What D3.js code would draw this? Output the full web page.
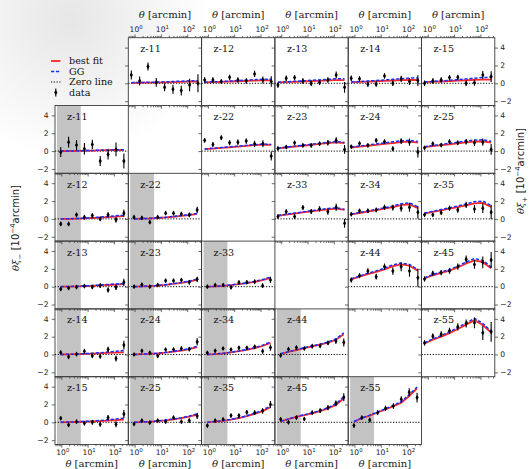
<!DOCTYPE html>
<html>
<head>
<meta charset="utf-8">
<script src="https://cdn.jsdelivr.net/npm/d3@7"></script>
<style>
  body { margin: 0; background: #fff; }
  svg { display: block; }
</style>
</head>
<body>
<svg id="chart" width="530" height="469"></svg>
<script>
// ---- data -------------------------------------------------------------
// tomographic bin pairs (i <= j)
const pairs = ["11","12","13","14","15","22","23","24","25","33","34","35","44","45","55"];

// angular bin centres [arcmin]
const thetaPlus  = [0.75, 1.55, 3.22, 6.67, 13.8, 28.7, 59.4, 123, 256];
const thetaMinus = [0.95, 1.89, 3.78, 7.55, 15.1, 30.1, 60.0, 120, 239];

// scales removed from the xi_- fit [arcmin]
const cutRange = [0.68, 5.5];

const yTickValues = [-2, 0, 2, 4];
const xMajorTicks = [1, 10, 100];
const xTickExponents = ["0", "1", "2"];

// theta * xi_+  [1e-4 arcmin], one row per pair
const xipData = [
  [0.93, 0.26, 1.87, 0.10, -0.45, -0.67, -0.82, -0.20, 0.00],
  [0.37, 0.37, 0.20, 0.67, 0.37, 0.26, 1.05, 0.37, 0.20],
  [-0.20, 0.56, 0.64, 0.26, 0.00, 0.10, 0.37, 0.93, -0.45],
  [0.56, 0.50, -0.10, -0.10, 0.82, 0.00, 0.50, 0.20, 0.30],
  [0.00, 0.26, 0.37, 0.64, 0.67, 0.00, 0.07, 0.93, 0.75],
  [1.20, 0.75, 1.50, 0.93, 1.00, 1.12, 0.82, 0.82, -0.56],
  [0.30, 0.45, 0.93, 0.64, 0.64, 0.82, 0.93, 1.20, 0.19],
  [0.49, 0.86, 0.64, 1.20, 1.05, 0.26, 1.12, 1.00, -0.11],
  [0.37, 0.82, 0.67, 1.05, 0.93, 1.05, 0.93, 1.00, 0.19],
  [0.26, 0.82, 0.26, 1.27, 0.82, 1.12, 0.82, 1.30, -0.49],
  [0.52, 0.90, 0.90, 1.00, 1.30, 1.27, 1.20, 1.30, 0.75],
  [0.45, 0.45, 0.70, 1.20, 1.00, 1.57, 1.12, 1.20, 0.75],
  [0.75, 1.23, 1.76, 1.12, 2.24, 1.76, 2.24, 1.76, 1.00],
  [0.86, 1.50, 1.57, 1.76, 2.24, 3.07, 2.50, 2.73, 3.00],
  [1.30, 2.05, 2.28, 2.65, 3.10, 3.48, 3.55, 2.43, 2.54]
];
const xipErr = [
  [0.50, 0.50, 0.45, 0.50, 0.45, 0.50, 0.55, 0.70, 1.00],
  [0.30, 0.30, 0.25, 0.30, 0.30, 0.30, 0.35, 0.40, 0.60],
  [0.30, 0.30, 0.30, 0.30, 0.30, 0.30, 0.30, 0.40, 0.60],
  [0.30, 0.30, 0.30, 0.30, 0.30, 0.30, 0.35, 0.40, 0.60],
  [0.30, 0.30, 0.30, 0.30, 0.30, 0.30, 0.35, 0.45, 0.60],
  [0.25, 0.25, 0.25, 0.28, 0.30, 0.30, 0.35, 0.40, 0.50],
  [0.20, 0.20, 0.22, 0.22, 0.25, 0.25, 0.30, 0.35, 0.50],
  [0.20, 0.22, 0.22, 0.25, 0.25, 0.28, 0.32, 0.40, 0.60],
  [0.20, 0.22, 0.22, 0.25, 0.25, 0.30, 0.35, 0.40, 0.60],
  [0.22, 0.22, 0.25, 0.25, 0.28, 0.30, 0.35, 0.40, 0.50],
  [0.22, 0.22, 0.25, 0.25, 0.28, 0.32, 0.40, 0.50, 0.70],
  [0.22, 0.22, 0.25, 0.28, 0.30, 0.35, 0.45, 0.55, 0.80],
  [0.28, 0.28, 0.30, 0.32, 0.35, 0.42, 0.50, 0.65, 1.00],
  [0.28, 0.28, 0.30, 0.32, 0.35, 0.42, 0.50, 0.65, 0.90],
  [0.30, 0.30, 0.32, 0.35, 0.40, 0.45, 0.60, 0.80, 1.10]
];
const xipBest = [
  [0.05, 0.06, 0.07, 0.08, 0.10, 0.12, 0.15, 0.18, 0.20],
  [0.10, 0.13, 0.16, 0.20, 0.23, 0.27, 0.30, 0.33, 0.33],
  [0.10, 0.13, 0.16, 0.20, 0.24, 0.28, 0.32, 0.35, 0.35],
  [0.12, 0.15, 0.19, 0.23, 0.27, 0.31, 0.35, 0.38, 0.37],
  [0.12, 0.16, 0.20, 0.24, 0.29, 0.34, 0.38, 0.42, 0.40],
  [0.22, 0.28, 0.35, 0.42, 0.50, 0.58, 0.66, 0.72, 0.70],
  [0.30, 0.40, 0.50, 0.60, 0.70, 0.80, 0.90, 0.98, 0.90],
  [0.40, 0.50, 0.60, 0.70, 0.80, 0.90, 1.00, 1.05, 0.95],
  [0.45, 0.55, 0.66, 0.76, 0.87, 0.97, 1.06, 1.10, 0.95],
  [0.35, 0.48, 0.60, 0.72, 0.84, 0.96, 1.07, 1.15, 1.00],
  [0.50, 0.66, 0.82, 0.98, 1.14, 1.32, 1.55, 1.62, 1.20],
  [0.60, 0.78, 0.96, 1.14, 1.32, 1.52, 1.75, 1.80, 1.35],
  [0.82, 1.12, 1.40, 1.65, 1.95, 2.30, 2.50, 2.35, 1.80],
  [0.93, 1.28, 1.55, 1.80, 2.15, 2.60, 2.95, 2.75, 2.05],
  [1.23, 1.65, 2.00, 2.40, 2.85, 3.35, 3.85, 3.30, 2.45]
];
const xipGG = [
  [0.07, 0.09, 0.11, 0.13, 0.16, 0.20, 0.24, 0.28, 0.30],
  [0.12, 0.16, 0.20, 0.25, 0.30, 0.35, 0.40, 0.44, 0.45],
  [0.12, 0.17, 0.22, 0.27, 0.33, 0.38, 0.44, 0.50, 0.50],
  [0.14, 0.19, 0.25, 0.31, 0.37, 0.44, 0.51, 0.58, 0.60],
  [0.15, 0.21, 0.27, 0.34, 0.41, 0.49, 0.57, 0.65, 0.67],
  [0.24, 0.31, 0.39, 0.47, 0.56, 0.64, 0.72, 0.78, 0.75],
  [0.33, 0.44, 0.55, 0.66, 0.77, 0.88, 0.98, 1.06, 0.97],
  [0.45, 0.56, 0.68, 0.80, 0.92, 1.04, 1.15, 1.20, 1.07],
  [0.50, 0.62, 0.74, 0.87, 1.00, 1.12, 1.23, 1.27, 1.10],
  [0.38, 0.52, 0.65, 0.78, 0.91, 1.04, 1.16, 1.24, 1.08],
  [0.54, 0.71, 0.88, 1.06, 1.24, 1.44, 1.70, 1.80, 1.35],
  [0.65, 0.85, 1.05, 1.25, 1.45, 1.68, 1.93, 2.00, 1.50],
  [0.88, 1.20, 1.50, 1.77, 2.08, 2.45, 2.65, 2.50, 1.90],
  [1.00, 1.36, 1.65, 1.92, 2.30, 2.78, 3.15, 2.95, 2.20],
  [1.30, 1.75, 2.12, 2.55, 3.02, 3.55, 4.05, 3.50, 2.60]
];

// theta * xi_-  [1e-4 arcmin], one row per pair
const ximData = [
  [-0.11, 1.00, 0.67, 0.26, 0.75, -1.12, -0.37, 0.19, -1.12],
  [-0.56, -0.56, 0.45, 0.19, 0.37, 0.00, 0.45, -0.11, 0.64],
  [-0.26, -0.15, -0.04, 0.07, -0.04, 0.11, -0.37, -0.07, 0.49],
  [0.22, -0.26, 0.04, 0.37, -0.15, -0.19, 0.56, -0.45, 1.05],
  [0.45, -0.30, 0.07, -0.11, 0.00, -0.22, 0.52, -0.22, 0.93],
  [0.19, 0.11, -0.37, 0.19, 0.64, 0.64, 0.56, 0.45, 1.00],
  [0.00, 0.22, 0.00, 0.19, 0.67, 0.67, 0.75, 0.49, 0.82],
  [0.00, 0.41, 0.19, -0.15, 0.56, 0.56, 0.67, 0.60, 1.42],
  [-0.19, 0.19, -0.04, 0.19, 0.07, 0.52, 0.07, 0.19, 0.71],
  [0.00, 0.19, 0.19, -0.07, 0.49, 0.49, 0.56, 0.11, 0.75],
  [0.19, 0.41, 0.67, 0.56, 0.75, 0.75, 0.86, 0.37, 0.78],
  [-0.37, 0.19, 0.34, 0.75, 0.75, 1.12, 1.08, 1.27, 2.00],
  [-0.11, 0.60, 0.78, 0.67, 0.93, 0.97, 1.30, 1.50, 1.35],
  [0.34, 0.00, 0.52, 0.37, 1.08, 1.30, 1.64, 2.13, 2.80],
  [-0.37, 0.52, 0.26, 1.08, 1.57, 1.83, 2.58, 3.36, 2.77]
];
const ximErr = [
  [0.56, 0.60, 0.56, 0.65, 0.52, 0.56, 0.56, 0.78, 0.84],
  [0.25, 0.25, 0.25, 0.25, 0.25, 0.25, 0.28, 0.30, 0.40],
  [0.22, 0.22, 0.22, 0.22, 0.22, 0.25, 0.28, 0.30, 0.40],
  [0.22, 0.22, 0.22, 0.25, 0.25, 0.28, 0.30, 0.35, 0.50],
  [0.22, 0.22, 0.22, 0.25, 0.25, 0.28, 0.30, 0.35, 0.45],
  [0.18, 0.18, 0.20, 0.20, 0.20, 0.22, 0.22, 0.25, 0.35],
  [0.15, 0.15, 0.15, 0.18, 0.18, 0.20, 0.20, 0.25, 0.30],
  [0.15, 0.15, 0.15, 0.18, 0.18, 0.20, 0.22, 0.25, 0.40],
  [0.15, 0.15, 0.15, 0.18, 0.18, 0.20, 0.22, 0.25, 0.35],
  [0.15, 0.15, 0.15, 0.18, 0.18, 0.20, 0.22, 0.25, 0.35],
  [0.15, 0.15, 0.18, 0.18, 0.20, 0.20, 0.22, 0.28, 0.35],
  [0.18, 0.18, 0.18, 0.20, 0.20, 0.22, 0.25, 0.30, 0.40],
  [0.18, 0.18, 0.20, 0.20, 0.22, 0.22, 0.25, 0.30, 0.45],
  [0.20, 0.20, 0.20, 0.22, 0.22, 0.25, 0.28, 0.32, 0.45],
  [0.22, 0.22, 0.25, 0.25, 0.28, 0.30, 0.35, 0.45, 0.55]
];
const ximBest = [
  [0.00, 0.01, 0.02, 0.04, 0.06, 0.08, 0.10, 0.12, 0.12],
  [0.00, 0.01, 0.03, 0.06, 0.10, 0.15, 0.20, 0.26, 0.30],
  [0.00, 0.01, 0.03, 0.06, 0.10, 0.14, 0.19, 0.24, 0.30],
  [0.00, 0.01, 0.03, 0.06, 0.09, 0.13, 0.17, 0.21, 0.25],
  [0.00, 0.01, 0.03, 0.06, 0.10, 0.14, 0.19, 0.25, 0.30],
  [0.00, 0.02, 0.05, 0.10, 0.16, 0.24, 0.33, 0.43, 0.55],
  [0.00, 0.03, 0.07, 0.13, 0.21, 0.31, 0.43, 0.58, 0.78],
  [0.00, 0.03, 0.07, 0.13, 0.21, 0.31, 0.43, 0.60, 0.82],
  [0.00, 0.03, 0.07, 0.13, 0.22, 0.33, 0.46, 0.63, 0.85],
  [0.00, 0.04, 0.10, 0.18, 0.28, 0.40, 0.55, 0.74, 1.00],
  [0.00, 0.05, 0.13, 0.24, 0.37, 0.52, 0.71, 0.95, 1.30],
  [0.00, 0.07, 0.17, 0.31, 0.48, 0.68, 0.93, 1.25, 1.70],
  [0.08, 0.28, 0.50, 0.72, 0.92, 1.10, 1.32, 1.65, 2.28],
  [0.10, 0.35, 0.60, 0.80, 1.00, 1.25, 1.55, 1.95, 2.70],
  [0.07, 0.45, 0.75, 1.10, 1.45, 1.80, 2.20, 2.95, 3.80]
];
const ximGG = [
  [0.00, 0.01, 0.03, 0.05, 0.07, 0.10, 0.12, 0.14, 0.15],
  [0.00, 0.02, 0.04, 0.08, 0.13, 0.20, 0.27, 0.35, 0.42],
  [0.00, 0.02, 0.05, 0.09, 0.14, 0.19, 0.25, 0.31, 0.36],
  [0.00, 0.02, 0.05, 0.09, 0.14, 0.20, 0.27, 0.35, 0.45],
  [0.00, 0.02, 0.05, 0.10, 0.15, 0.21, 0.28, 0.36, 0.45],
  [0.00, 0.02, 0.06, 0.11, 0.18, 0.27, 0.37, 0.48, 0.60],
  [0.00, 0.03, 0.08, 0.14, 0.23, 0.34, 0.47, 0.63, 0.85],
  [0.00, 0.03, 0.08, 0.15, 0.24, 0.35, 0.48, 0.66, 0.92],
  [0.00, 0.03, 0.08, 0.15, 0.25, 0.37, 0.51, 0.70, 0.95],
  [0.00, 0.04, 0.11, 0.20, 0.31, 0.44, 0.60, 0.80, 1.07],
  [0.00, 0.06, 0.14, 0.26, 0.40, 0.57, 0.77, 1.03, 1.40],
  [0.00, 0.08, 0.19, 0.34, 0.52, 0.74, 1.01, 1.35, 1.82],
  [0.09, 0.30, 0.53, 0.76, 0.97, 1.16, 1.39, 1.75, 2.42],
  [0.11, 0.37, 0.63, 0.85, 1.06, 1.32, 1.64, 2.06, 2.85],
  [0.08, 0.48, 0.80, 1.16, 1.52, 1.90, 2.32, 3.10, 3.95]
];

// ---- layout -----------------------------------------------------------
const W = 530, H = 469;
const gridLeft = 55, gridTop = 37.7, cellW = 73.3, cellH = 67.8;
const serif = "'DejaVu Serif', serif";
const sans = "'DejaVu Sans', sans-serif";
const ink = "#222";

const x = d3.scaleLog().domain([0.575, 352]).range([0, cellW]);
const y = d3.scaleLinear().domain([-2.49, 5.11]).range([cellH, 0]);

const minorTicks = [];
[0.1, 1, 10, 100].forEach(dec => {
  for (let m = 2; m < 10; m++) {
    const v = dec * m;
    if (v >= 0.575 && v <= 352) minorTicks.push(v);
  }
});

const svg = d3.select("#chart");
const defs = svg.append("defs");

// faint haze in the upper-left corner of the canvas
const haze = defs.append("radialGradient").attr("id", "haze")
  .attr("gradientUnits", "userSpaceOnUse").attr("cx", 70).attr("cy", 20).attr("r", 140);
haze.append("stop").attr("offset", 0).attr("stop-color", "#e6e6e6");
haze.append("stop").attr("offset", 1).attr("stop-color", "#ffffff");
svg.append("rect").attr("width", W).attr("height", H).attr("fill", "url(#haze)");

defs.append("clipPath").attr("id", "cell")
  .append("rect").attr("width", cellW).attr("height", cellH);

// build the panel list: xi_+ in the upper triangle, xi_- in the lower one
const panels = [];
pairs.forEach((p, k) => {
  const i = +p[0], j = +p[1];
  panels.push({ kind: "+", label: "z-" + p, row: i - 1, col: j, theta: thetaPlus,
    data: xipData[k], err: xipErr[k], best: xipBest[k], gg: xipGG[k] });
  panels.push({ kind: "-", label: "z-" + p, row: j, col: i - 1, theta: thetaMinus,
    data: ximData[k], err: ximErr[k], best: ximBest[k], gg: ximGG[k] });
});

const bgLayer = svg.append("g");
const plotLayer = svg.append("g");
const frameLayer = svg.append("g");

const pos = d => `translate(${gridLeft + d.col * cellW},${gridTop + d.row * cellH})`;

panels.forEach(d => {
  bgLayer.append("rect").attr("transform", pos(d))
    .attr("width", cellW).attr("height", cellH).attr("fill", "#fff");
});

const line = d3.line().x(p => x(p[0])).y(p => y(p[1]));

panels.forEach(d => {
  const g = plotLayer.append("g").attr("transform", pos(d));
  const c = g.append("g").attr("clip-path", "url(#cell)");

  if (d.kind === "-") {
    c.append("rect")
      .attr("x", x(cutRange[0])).attr("width", x(cutRange[1]) - x(cutRange[0]))
      .attr("y", 0).attr("height", cellH).attr("fill", "#c3c3c3");
  }

  // zero line
  c.append("line").attr("x1", 0).attr("x2", cellW)
    .attr("y1", y(0)).attr("y2", y(0))
    .attr("stroke", "#000").attr("stroke-width", 1).attr("stroke-dasharray", "1.2,1.6");

  // best fit and GG models
  c.append("path").datum(d.theta.map((t, k) => [t, d.best[k]])).attr("d", line)
    .attr("fill", "none").attr("stroke", "#ff2626").attr("stroke-width", 1.8);
  c.append("path").datum(d.theta.map((t, k) => [t, d.gg[k]])).attr("d", line)
    .attr("fill", "none").attr("stroke", "#1430ff").attr("stroke-width", 1.5)
    .attr("stroke-dasharray", "3.2,1.8");

  // data with error bars
  const pts = c.selectAll("g.pt").data(d.theta.map((t, k) => ({ t, v: d.data[k], e: d.err[k] })))
    .join("g").attr("class", "pt");
  pts.append("line")
    .attr("x1", p => x(p.t)).attr("x2", p => x(p.t))
    .attr("y1", p => y(p.v - p.e)).attr("y2", p => y(p.v + p.e))
    .attr("stroke", "#000").attr("stroke-width", 1.1);
  pts.append("path")
    .attr("transform", p => `translate(${x(p.t)},${y(p.v)})`)
    .attr("d", "M0,-2.6L1.6,0L0,2.6L-1.6,0Z").attr("fill", "#000");

  // panel name
  g.append("text").attr("x", 12).attr("y", 14.5)
    .attr("font-family", serif).attr("font-size", 9.6).attr("fill", "#111")
    .text(d.label);
});

// frames and ticks
const tickStyle = sel => {
  sel.select(".domain").remove();
  sel.selectAll("line").attr("stroke", "#444").attr("stroke-width", 0.8);
  sel.selectAll("text").remove();
};
const fmt = v => (v < 0 ? "\u2212" : "") + Math.abs(v);

panels.forEach(d => {
  const g = frameLayer.append("g").attr("transform", pos(d));
  g.append("rect").attr("width", cellW).attr("height", cellH)
    .attr("fill", "none").attr("stroke", "#3a3a3a").attr("stroke-width", 0.9);

  // y ticks on the left spine, x ticks on the bottom spine
  g.append("g").call(d3.axisLeft(y).tickValues(yTickValues).tickSize(3.2)).call(tickStyle);
  g.append("g").attr("transform", `translate(0,${cellH})`)
    .call(d3.axisBottom(x).tickValues(xMajorTicks).tickSize(3.2)).call(tickStyle);
  g.append("g").attr("transform", `translate(0,${cellH})`)
    .call(d3.axisBottom(x).tickValues(minorTicks).tickSize(1.8)).call(tickStyle);

  const tickText = (tx, ty, anchor, s) => g.append("text").attr("x", tx).attr("y", ty)
    .attr("text-anchor", anchor).attr("font-family", sans).attr("font-size", 7.6)
    .attr("fill", ink).text(s);

  // left labels on the xi_- column
  if (d.kind === "-" && d.col === 0) {
    yTickValues.forEach(v => tickText(-6.5, y(v) + 2.8, "end", fmt(v)));
  }
  // right axis on the last xi_+ column
  if (d.kind === "+" && d.col === 5) {
    g.append("g").attr("transform", `translate(${cellW},0)`)
      .call(d3.axisRight(y).tickValues(yTickValues).tickSize(3.2)).call(tickStyle);
    yTickValues.forEach(v => tickText(cellW + 5.5, y(v) + 2.8, "start", fmt(v)));
  }

  const expLabel = (tx, ty, k) => {
    const t = g.append("text").attr("x", tx).attr("y", ty).attr("text-anchor", "middle")
      .attr("font-family", sans).attr("font-size", 7.6).attr("fill", ink);
    t.append("tspan").text("10");
    t.append("tspan").attr("dy", -3.4).attr("font-size", 5.4).text(xTickExponents[k]);
  };
  const axisTitle = ty => {
    const t = g.append("text").attr("x", cellW / 2).attr("y", ty).attr("text-anchor", "middle")
      .attr("font-family", serif).attr("font-size", 10).attr("fill", ink);
    t.append("tspan").attr("font-style", "italic").text("\u03b8");
    t.append("tspan").text(" [arcmin]");
  };

  // top axis of the first xi_+ row
  if (d.kind === "+" && d.row === 0) {
    g.append("g").call(d3.axisTop(x).tickValues(xMajorTicks).tickSize(3.2)).call(tickStyle);
    g.append("g").call(d3.axisTop(x).tickValues(minorTicks).tickSize(1.8)).call(tickStyle);
    xMajorTicks.forEach((v, k) => expLabel(x(v) + 1.5, -5.5, k));
    axisTitle(-20);
  }
  // bottom axis of the last xi_- row
  if (d.kind === "-" && d.row === 5) {
    xMajorTicks.forEach((v, k) => expLabel(x(v) + 1.5, cellH + 11, k));
    axisTitle(cellH + 22.5);
  }
});

// y-axis titles
const yTitle = (tx, ty, sub) => {
  const t = svg.append("text").attr("transform", `translate(${tx},${ty}) rotate(-90)`)
    .attr("text-anchor", "middle").attr("font-family", sans).attr("font-size", 10).attr("fill", ink);
  t.append("tspan").attr("font-family", serif).attr("font-style", "italic").text("\u03b8\u03be");
  t.append("tspan").attr("dy", 2.5).attr("font-size", 7).text(sub);
  t.append("tspan").attr("dy", -2.5).text(" [10");
  t.append("tspan").attr("dy", -3.8).attr("font-size", 7).text("\u22124");
  t.append("tspan").attr("dy", 3.8).text("arcmin]");
};
yTitle(19, 228, "\u2212");
yTitle(524, 171, "+");

// legend
const legend = svg.append("g").attr("transform", "translate(51,61)");
const entries = ["best fit", "GG", "Zero line", "data"];
entries.forEach((name, k) => {
  const row = legend.append("g").attr("transform", `translate(0,${k * 10.5})`);
  if (k === 0) row.append("line").attr("x1", 0).attr("x2", 9.5)
    .attr("stroke", "#ff2626").attr("stroke-width", 1.8);
  if (k === 1) row.append("line").attr("x1", 0).attr("x2", 9.5)
    .attr("stroke", "#1430ff").attr("stroke-width", 1.5).attr("stroke-dasharray", "3.2,1.8");
  if (k === 2) row.append("line").attr("x1", 0).attr("x2", 9.5)
    .attr("stroke", "#000").attr("stroke-width", 1).attr("stroke-dasharray", "1.2,1.6");
  if (k === 3) {
    row.append("line").attr("x1", 4.8).attr("x2", 4.8).attr("y1", -4).attr("y2", 4)
      .attr("stroke", "#000").attr("stroke-width", 1.1);
    row.append("path").attr("transform", "translate(4.8,0)")
      .attr("d", "M0,-2.6L1.6,0L0,2.6L-1.6,0Z").attr("fill", "#000");
  }
  row.append("text").attr("x", 18).attr("y", 3.4)
    .attr("font-family", serif).attr("font-size", 9.6).attr("fill", "#111").text(name);
});
</script>
</body>
</html>
